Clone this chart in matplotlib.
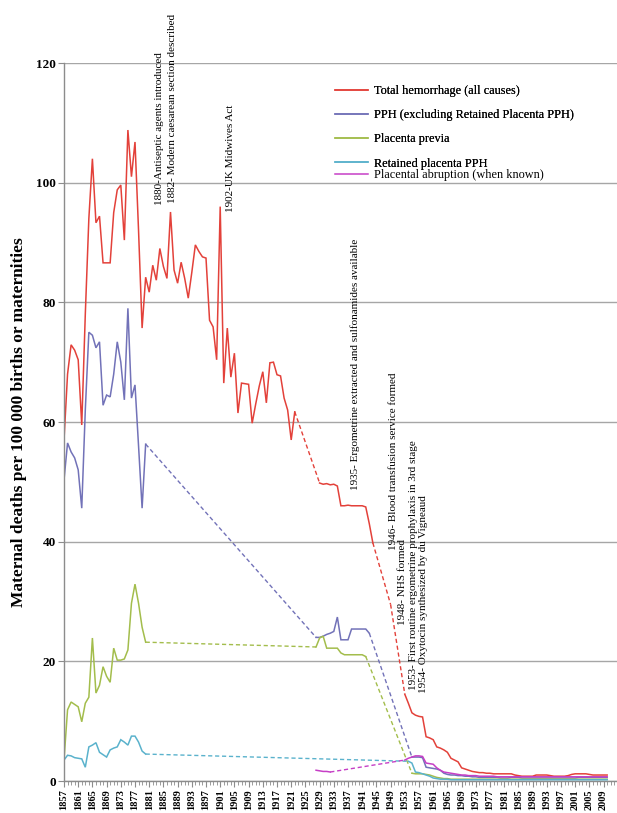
import numpy as np
import matplotlib
matplotlib.use("Agg")
import matplotlib.pyplot as plt
from matplotlib.lines import Line2D

# ---- data ----
# each series is a list of segments; gaps between segments are drawn dashed
total_years = [list(range(1857, 1923)), list(range(1929, 1945)), [1949], list(range(1953, 2011))]
total_vals = [
    [57, 68, 72.9, 72, 70.4, 59.5, 78, 94, 104, 93.3, 94.4, 86.6, 86.6, 86.6, 95, 98.8,
     99.6, 90.4, 108.8, 101, 106.8, 92, 75.7, 84.2, 81.7, 86.2, 83.7, 89, 86, 84, 95.1,
     85.4, 83.2, 86.7, 84, 80.7, 85, 89.6, 88.5, 87.6, 87.4, 77, 75.9, 70.4, 96, 66.5,
     75.7, 67.5, 71.5, 61.5, 66.5, 66.4, 66.3, 59.8, 63, 66, 68.4, 63.2, 69.9, 70, 67.9,
     67.7, 64, 62, 57, 61.7],
    [49.8, 49.6, 49.7, 49.5, 49.6, 49.3, 46, 46, 46.1, 46, 46, 46, 46, 45.8, 43, 39.8],
    [29.5],
    [14.5, 13, 11.4, 11, 10.8, 10.7, 7.4, 7.2, 6.9, 5.7, 5.5, 5.2, 4.8, 3.8, 3.5, 3.2,
     2.2, 2.0, 1.8, 1.6, 1.5, 1.4, 1.4, 1.3, 1.3, 1.2, 1.2, 1.2, 1.2, 1.2, 1.2, 1.0,
     0.9, 0.8, 0.8, 0.8, 0.8, 1.0, 1.0, 1.0, 1.0, 0.9, 0.8, 0.8, 0.8, 0.8, 0.9, 1.1,
     1.2, 1.2, 1.2, 1.2, 1.1, 1.0, 1.0, 1.0, 1.0, 1.0],
]

pph_years = [list(range(1857, 1881)), list(range(1928, 1944)), list(range(1955, 2011))]
pph_vals = [
    [50.3, 56.5, 55, 54, 52, 45.6, 62, 75, 74.5, 72.4, 73.4, 62.8, 64.5, 64.2, 68, 73.4,
     70, 63.7, 79, 64, 66.2, 56, 45.6, 56.3],
    [24, 24, 24.2, 24.5, 24.7, 25, 27.4, 23.6, 23.6, 23.6, 25.4, 25.4, 25.4, 25.4, 25.4, 24.7],
    [4.0, 4.0, 4.0, 3.9, 2.3, 2.2, 2.1, 2.0, 1.8, 1.3, 1.1, 1.0, 1.0, 0.9, 0.9, 0.8, 0.8,
     0.7, 0.7, 0.6, 0.6, 0.6, 0.6, 0.6, 0.6, 0.5, 0.5, 0.5, 0.6, 0.6, 0.6, 0.5, 0.5, 0.5,
     0.5, 0.5, 0.5, 0.5, 0.5, 0.5, 0.5, 0.5, 0.5, 0.5, 0.5, 0.5, 0.5, 0.6, 0.6, 0.6, 0.6,
     0.6, 0.6, 0.6, 0.6, 0.6],
]

previa_years = [list(range(1857, 1881)), list(range(1928, 1943)), list(range(1955, 2011))]
previa_vals = [
    [3.5, 11.9, 13.2, 12.8, 12.4, 9.9, 13, 14, 23.9, 14.7, 16, 19.1, 17.5, 16.5, 22.2,
     20.2, 20.2, 20.4, 21.9, 29.7, 32.9, 29.7, 25.7, 23.2],
    [22.4, 23.9, 24.2, 22.2, 22.2, 22.2, 22.2, 21.4, 21.1, 21.1, 21.1, 21.1, 21.1, 21.1, 20.8],
    [1.3, 1.2, 1.2, 1.2, 1.1, 1.0, 0.8, 0.6, 0.5, 0.4, 0.4, 0.3, 0.3, 0.3, 0.3, 0.3, 0.3,
     0.3, 0.3, 0.3, 0.3, 0.3, 0.3, 0.3, 0.3, 0.3, 0.3, 0.3, 0.3, 0.3, 0.3, 0.3, 0.3, 0.3,
     0.3, 0.3, 0.3, 0.3, 0.3, 0.3, 0.3, 0.3, 0.3, 0.3, 0.3, 0.3, 0.3, 0.3, 0.3, 0.3, 0.3,
     0.3, 0.3, 0.3, 0.3, 0.3],
]

retained_years = [list(range(1857, 1881)), list(range(1954, 2011))]
retained_vals = [
    [3.5, 4.3, 4.2, 3.9, 3.8, 3.7, 2.3, 5.7, 6.0, 6.4, 4.8, 4.4, 4.0, 5.2, 5.5, 5.7, 6.9,
     6.5, 6.0, 7.5, 7.5, 6.5, 5.0, 4.5],
    [3.3, 3.0, 1.5, 1.4, 1.2, 1.0, 0.8, 0.5, 0.4, 0.3, 0.3, 0.3, 0.2, 0.2, 0.2, 0.2, 0.2,
     0.2, 0.2, 0.2, 0.2, 0.2, 0.2, 0.2, 0.2, 0.2, 0.2, 0.2, 0.2, 0.2, 0.2, 0.2, 0.2, 0.2,
     0.2, 0.2, 0.2, 0.2, 0.2, 0.2, 0.2, 0.2, 0.2, 0.2, 0.2, 0.2, 0.2, 0.2, 0.2, 0.2, 0.2,
     0.2, 0.2, 0.2, 0.2, 0.2, 0.2],
]

abruption_years = [list(range(1928, 1933)), list(range(1953, 2011))]
abruption_vals = [
    [1.8, 1.7, 1.6, 1.6, 1.5],
    [3.5, 3.8, 4.0, 4.2, 4.2, 4.1, 3.0, 2.9, 2.8, 2.2, 1.8, 1.5, 1.4, 1.3, 1.2, 1.1, 1.0,
     1.0, 0.9, 0.9, 0.9, 0.8, 0.8, 0.8, 0.8, 0.8, 0.7, 0.7, 0.7, 0.7, 0.7, 0.7, 0.7, 0.7,
     0.7, 0.7, 0.7, 0.7, 0.7, 0.7, 0.7, 0.7, 0.7, 0.7, 0.7, 0.7, 0.7, 0.7, 0.7, 0.7, 0.7,
     0.7, 0.7, 0.7, 0.7, 0.7, 0.7, 0.7],
]

series = [
    ("Total hemorrhage (all causes)", total_years, total_vals, "#e3413a"),
    ("PPH (excluding Retained Placenta PPH)", pph_years, pph_vals, "#7272b8"),
    ("Placenta previa", previa_years, previa_vals, "#a3bd4c"),
    ("Retained placenta PPH", retained_years, retained_vals, "#5ab2cc"),
    ("Placental abruption (when known)", abruption_years, abruption_vals, "#c63fc6"),
]

# annotation text, (x year, y value) of the bottom of each rotated label
notes = [
    ("1880-Antiseptic agents introduced", 1884.0, 96.3),
    ("1882- Modern caesarean section described", 1887.7, 96.6),
    ("1902-UK Midwives Act", 1903.8, 95.1),
    ("1935- Ergometrine extracted and sulfonamides available", 1939.0, 48.6),
    ("1946- Blood transfusion service formed", 1949.9, 38.6),
    ("1948- NHS formed", 1952.4, 26.1),
    ("1953- First routine ergometrine prophylaxis in 3rd stage", 1955.4, 15.2),
    ("1954- Oxytocin synthesized by du Vigneaud", 1958.4, 14.7),
]

# ---- figure ----
serif = "Liberation Serif"
fig = plt.figure(figsize=(6.17, 8.13), dpi=100)
ax = fig.add_axes([64 / 617, 32 / 813, 553 / 617, 718 / 813])

for label, yrs, vals, col in series:
    # solid where the data exists
    for y, v in zip(yrs, vals):
        ax.plot(y, v, color=col, lw=1.1, solid_joinstyle="miter")
    # dashed across the gaps between segments
    for i in range(len(yrs) - 1):
        ax.plot([yrs[i][-1], yrs[i + 1][0]], [vals[i][-1], vals[i + 1][0]],
                color=col, lw=1.0, ls=(0, (3, 2)))

ax.set_xlim(1857, 1857 + 553 / 3.55)
ax.set_ylim(0, 120)
ax.set_yticks(range(0, 121, 20))
ax.set_xticks(range(1857, 2011, 4))
ax.set_xticks(range(1857, 2013), minor=True)
ax.grid(axis="y", color="#a6a6a6", lw=1.0)
ax.set_axisbelow(True)

for s in ["top", "right"]:
    ax.spines[s].set_visible(False)
for s in ["left", "bottom"]:
    ax.spines[s].set_color("#8c8c8c")
    ax.spines[s].set_linewidth(1.0)

ax.tick_params(axis="y", length=4, color="#8c8c8c", pad=2)
ax.tick_params(axis="x", which="major", length=4, color="#8c8c8c", pad=2)
ax.tick_params(axis="x", which="minor", length=3, color="#8c8c8c")
for t in ax.get_yticklabels():
    t.set_fontfamily(serif)
    t.set_fontweight("bold")
    t.set_fontsize(9.5)
for t in ax.get_xticklabels():
    t.set_fontfamily(serif)
    t.set_fontweight("bold")
    t.set_fontsize(7.5)
    t.set_rotation(90)

ax.set_ylabel("Maternal deaths per 100 000 births or maternities",
              fontfamily=serif, fontweight="bold", fontsize=12.5, labelpad=6)

for txt, x, y in notes:
    ax.text(x, y, txt, rotation=90, ha="center", va="bottom",
            fontfamily=serif, fontsize=8)

# legend: first four entries evenly spaced, the last one tucked just below
handles = [Line2D([], [], color=c, lw=1.1) for _, _, _, c in series]
labels = [s[0] for s in series]
leg1 = fig.legend(handles[:4], labels[:4], loc="upper left",
                  bbox_to_anchor=(335 / 617, 1 - 85 / 813), frameon=False,
                  prop={"family": serif, "size": 8.8}, handlelength=2.7,
                  handletextpad=0.45, labelspacing=1.0, borderpad=0, borderaxespad=0)
fig.legend(handles[4:], labels[4:], loc="upper left",
           bbox_to_anchor=(335 / 617, 1 - 169 / 813), frameon=False,
           prop={"family": serif, "size": 8.8}, handlelength=2.7,
           handletextpad=0.45, borderpad=0, borderaxespad=0)
fig.add_artist(leg1)

fig.savefig("out.png", dpi=100)
